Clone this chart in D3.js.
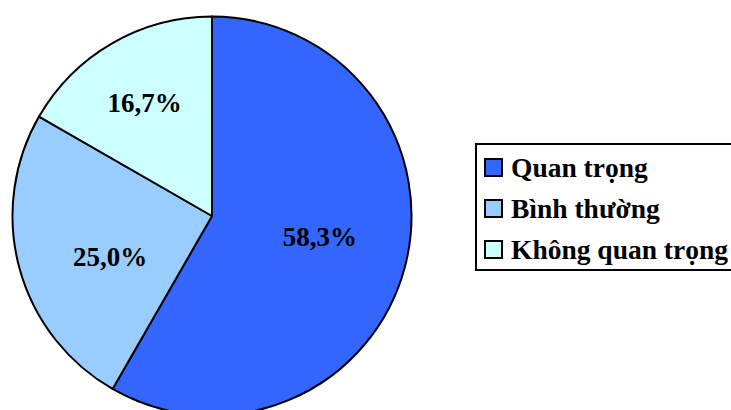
<!DOCTYPE html>
<html>
<head>
<meta charset="utf-8">
<script src="https://cdn.jsdelivr.net/npm/d3@7"></script>
</head>
<body style="margin:0">
<svg id="chart" width="731" height="410"></svg>
<script>
const categories = ["Quan trọng", "Bình thường", "Không quan trọng"];
const values = [58.3, 25.0, 16.7];
const labels = ["58,3%", "25,0%", "16,7%"];
const colors = ["#3366FF", "#99CCFF", "#CCFFFF"];

const svg = d3.select("#chart");
const cx = 212, cy = 216, r = 199.5;

const pie = d3.pie().sort(null).value(d => d.v);
const arcs = pie(values.map((v, i) => ({v, i})));
const arc = d3.arc().innerRadius(0).outerRadius(r);

const g = svg.append("g").attr("transform", `translate(${cx},${cy})`);
g.selectAll("path").data(arcs).enter().append("path")
  .attr("d", arc)
  .attr("fill", d => colors[d.data.i])
  .attr("stroke", "#000")
  .attr("stroke-width", 2)
  .attr("stroke-linejoin", "round");

// label placement: centroid at 0.56r plus small nudges to mimic the original layout
const labelArc = d3.arc().innerRadius(r * 0.56).outerRadius(r * 0.56);
const nudge = [[0, -8], [6, 12], [-11.5, -16]];
arcs.forEach(d => {
  const c = labelArc.centroid(d);
  g.append("text")
    .attr("x", c[0] + nudge[d.data.i][0])
    .attr("y", c[1] + nudge[d.data.i][1] + 9)
    .attr("text-anchor", "middle")
    .attr("font-size", 27)
    .attr("font-weight", "bold")
    .style("font-family", `"Liberation Serif"`)
    .text(labels[d.data.i]);
});

// legend
svg.append("rect")
  .attr("x", 476).attr("y", 144)
  .attr("width", 300).attr("height", 126)
  .attr("fill", "#fff").attr("stroke", "#000").attr("stroke-width", 2);

const rowY = d3.scalePoint().domain(categories).range([177, 259]);
categories.forEach((c, i) => {
  const y = rowY(c);
  svg.append("rect")
    .attr("x", 485).attr("y", y - 18)
    .attr("width", 17).attr("height", 17)
    .attr("fill", colors[i]).attr("stroke", "#000").attr("stroke-width", 2);
  svg.append("text")
    .attr("x", 511).attr("y", y)
    .attr("font-size", 27.5)
    .attr("font-weight", "bold")
    .style("font-family", `"Liberation Serif"`)
    .text(c);
});
</script>
</body>
</html>
